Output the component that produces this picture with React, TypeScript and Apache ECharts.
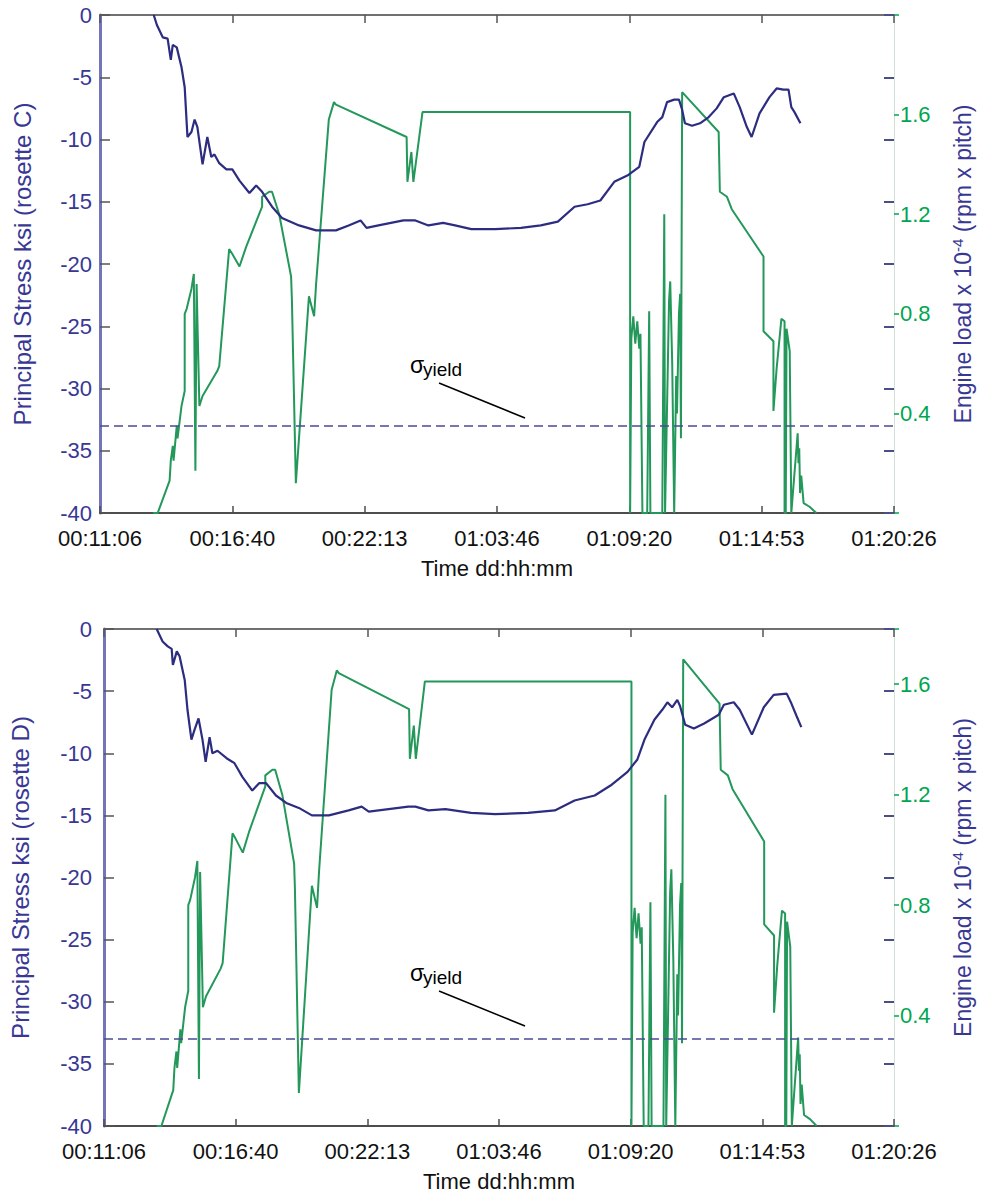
import React, { useEffect, useRef } from "react";
import * as echarts from "echarts";

// Time tick labels (dd:hh:mm) for the x axis, one every 20000 s
const timeTicks = ["00:11:06", "00:16:40", "00:22:13", "01:03:46", "01:09:20", "01:14:53", "01:20:26"];
const xStartSec = 40000;
const xEndSec = 160000;
const xStepSec = 20000;

// Principal stress, rosette C  [minutes from day 0 00:00, ksi]
const stressC: [number, number][] = [
  [802, 0], [810, -0.8], [825, -1.8], [837, -1.9], [845, -3.6], [850, -2.4], [860, -2.6], [872, -4.2],
  [880, -5.8], [887, -9.8], [897, -9.4], [905, -8.4], [912, -9.0], [925, -12.0], [937, -9.8], [947, -11.4],
  [955, -11.2], [967, -11.9], [985, -12.4], [1000, -12.4], [1018, -13.3], [1043, -14.3], [1060, -13.7],
  [1075, -14.2], [1100, -15.4], [1125, -16.3], [1168, -16.9], [1211, -17.3], [1243, -17.3], [1261, -17.3],
  [1293, -16.9], [1323, -16.5], [1338, -17.1], [1368, -16.9], [1431, -16.5], [1461, -16.5], [1494, -16.9],
  [1531, -16.7], [1561, -16.9], [1602, -17.2], [1662, -17.2], [1727, -17.1], [1777, -16.9], [1820, -16.6],
  [1862, -15.4], [1895, -15.2], [1927, -14.9], [1962, -13.4], [1995, -12.9], [2025, -12.2], [2038, -10.2],
  [2070, -8.6], [2083, -8.2], [2095, -7.0], [2113, -6.8], [2125, -6.8], [2133, -7.6], [2140, -8.7],
  [2158, -8.9], [2178, -8.7], [2200, -8.2], [2220, -7.5], [2238, -6.6], [2263, -6.3], [2278, -7.4],
  [2296, -9.0], [2308, -9.8], [2328, -7.9], [2353, -6.6], [2371, -5.9], [2388, -6.0], [2401, -6.0],
  [2408, -7.4], [2416, -7.8], [2431, -8.7],
];

// Principal stress, rosette D  [minutes, ksi]
const stressD: [number, number][] = [
  [800, 0], [815, -1.0], [828, -1.4], [838, -1.6], [841, -2.9], [851, -1.8], [858, -2.2], [871, -4.1],
  [878, -6.5], [888, -8.9], [896, -8.1], [906, -7.2], [916, -8.9], [924, -10.7], [934, -8.7], [941, -10.0],
  [954, -9.8], [977, -10.4], [997, -10.8], [1017, -11.9], [1042, -13.0], [1060, -12.4], [1077, -12.4],
  [1102, -13.4], [1128, -14.0], [1160, -14.4], [1193, -15.0], [1236, -15.0], [1286, -14.6], [1319, -14.3],
  [1337, -14.7], [1387, -14.5], [1437, -14.3], [1455, -14.3], [1488, -14.6], [1531, -14.5], [1596, -14.8],
  [1657, -14.9], [1740, -14.8], [1808, -14.6], [1858, -13.8], [1909, -13.4], [1949, -12.6], [1992, -11.5],
  [2017, -10.5], [2035, -8.9], [2060, -7.3], [2080, -6.5], [2093, -5.9], [2105, -6.3], [2118, -5.7],
  [2125, -6.2], [2138, -7.7], [2160, -8.0], [2186, -7.6], [2223, -6.9], [2236, -6.1], [2261, -5.9],
  [2276, -6.5], [2307, -8.5], [2337, -6.3], [2362, -5.3], [2395, -5.2], [2407, -6.0], [2420, -7.0],
  [2432, -7.9],
];

// Engine load x 10^-4 (rpm x pitch)  [minutes, load]
const engineLoad: [number, number][] = [
  [800, 0], [812, 0], [842, 0.13], [845, 0.21], [850, 0.27], [852, 0.21], [860, 0.35], [862, 0.30],
  [872, 0.43], [880, 0.49], [880, 0.80], [885, 0.82], [897, 0.90], [903, 0.96], [907, 0.17], [910, 0.92],
  [917, 0.43], [925, 0.47], [962, 0.57], [967, 0.59], [992, 1.06], [1000, 1.04], [1018, 0.99], [1035, 1.07],
  [1075, 1.23], [1075, 1.27], [1093, 1.29], [1100, 1.29], [1118, 1.20], [1148, 0.95], [1150, 0.86],
  [1160, 0.12], [1193, 0.87], [1206, 0.79], [1211, 0.92], [1243, 1.58], [1256, 1.65], [1261, 1.64],
  [1439, 1.51], [1441, 1.33], [1451, 1.45], [1456, 1.33], [1479, 1.61], [2002, 1.61], [2002, 0.0],
  [2005, 0.70], [2010, 0.79], [2015, 0.68], [2020, 0.77], [2025, 0.66], [2028, 0.72], [2033, 0.0],
  [2045, 0.0], [2050, 0.81], [2053, 0.0], [2083, 0.0], [2088, 1.20], [2090, 0.0], [2100, 0.85],
  [2103, 0.93], [2108, 0.60], [2113, 0.0], [2118, 0.55], [2120, 0.40], [2125, 0.80], [2128, 0.88],
  [2130, 0.30], [2133, 1.69], [2225, 1.53], [2228, 1.29], [2246, 1.27], [2258, 1.22], [2338, 1.03],
  [2338, 0.73], [2363, 0.69], [2363, 0.41], [2371, 0.58], [2383, 0.78], [2391, 0.77], [2391, 0.0],
  [2394, 0.0], [2396, 0.74], [2404, 0.65], [2408, 0.0], [2424, 0.32], [2426, 0.20], [2428, 0.26],
  [2430, 0.08], [2433, 0.15], [2439, 0.04], [2454, 0.025], [2471, 0],
];

const yieldStress = -33;
const stressTitles = ["Principal Stress ksi (rosette C)", "Principal Stress ksi (rosette D)"];
const loadMax = [2.0, 1.8];

const FONT = "'Liberation Sans', Arial, Helvetica, sans-serif";
const BLUE_TXT = "#383894";
const GREEN_TXT = "#00A651";
const BLUE_LINE = "#2C2C80";
const GREEN_LINE = "#23985A";

const grids = [
  { left: 100, top: 15, width: 798, height: 498 },
  { left: 104, top: 629, width: 794, height: 497 },
];

export default function App() {
  const ref = useRef<HTMLDivElement>(null);

  useEffect(() => {
    if (!ref.current) return;
    const chart = echarts.init(ref.current, null, { renderer: "svg" });

    const xAxis: any[] = [];
    const yAxis: any[] = [];
    const series: any[] = [];
    const stresses = [stressC, stressD];

    for (let g = 0; g < 2; g++) {
      const xFmt = (v: number) => {
        const i = Math.round((v - xStartSec) / xStepSec);
        return timeTicks[i] ?? "";
      };
      xAxis.push({
        type: "value", gridIndex: g, min: xStartSec, max: xEndSec, interval: xStepSec, position: "bottom",
        axisLine: { show: true, onZero: false, lineStyle: { color: "#4d4d4d", width: 2 } },
        axisTick: { show: true, inside: true, length: 7, lineStyle: { color: "#4d4d4d", width: 1.5 } },
        axisLabel: { formatter: xFmt, color: "#111", fontSize: 22, fontFamily: FONT, margin: 14 },
        splitLine: { show: false },
        name: "Time dd:hh:mm", nameLocation: "middle", nameGap: 44,
        nameTextStyle: { color: "#111", fontSize: 22, fontFamily: FONT },
      });
      xAxis.push({
        type: "value", gridIndex: g, min: xStartSec, max: xEndSec, interval: xStepSec, position: "top",
        axisLine: { show: true, onZero: false, lineStyle: { color: "#707070", width: 2 } },
        axisTick: { show: true, inside: true, length: 8, lineStyle: { color: "#555", width: 1.5 } },
        axisLabel: { show: false },
        splitLine: { show: false },
      });

      const lm = loadMax[g];
      yAxis.push({
        type: "value", gridIndex: g, min: -40, max: 0, interval: 5, position: "left",
        axisLine: { show: true, onZero: false, lineStyle: { color: "#7474B8", width: 3 } },
        axisTick: { show: true, inside: true, length: 10, lineStyle: { color: "#555", width: 1.5 } },
        axisLabel: { color: BLUE_TXT, fontSize: 22, fontFamily: FONT, margin: g === 0 ? 8 : 12 },
        splitLine: { show: false },
        name: stressTitles[g], nameLocation: "middle", nameGap: g === 0 ? 66 : 72,
        nameTextStyle: { color: BLUE_TXT, fontSize: 24, fontFamily: FONT },
      });
      yAxis.push({
        type: "value", gridIndex: g, min: 0, max: lm, interval: 0.4, position: "right",
        axisLine: { show: true, onZero: false, lineStyle: { color: "#D3E2D8", width: 1 } },
        axisTick: { show: true, inside: false, length: 5, lineStyle: { color: GREEN_TXT, width: 1.5 } },
        axisLabel: {
          color: GREEN_TXT, fontSize: 22, fontFamily: FONT, margin: 6,
          formatter: (v: number) => (v > 0.01 && v < lm - 0.01 ? v.toFixed(1) : ""),
        },
        splitLine: { show: false },
        name: "Engine load x 10{sup|-4} (rpm x pitch)", nameLocation: "middle", nameGap: 56,
        nameTextStyle: {
          color: BLUE_TXT, fontSize: 23, fontFamily: FONT, lineHeight: 26,
          rich: { sup: { color: BLUE_TXT, fontSize: 15, fontFamily: FONT, lineHeight: 15, verticalAlign: "top" } },
        },
      });
      yAxis.push({
        type: "value", gridIndex: g, min: -40, max: 0, interval: 5, position: "right",
        axisLine: { show: false, onZero: false },
        axisTick: { show: true, inside: true, length: 10, lineStyle: { color: "#4E4E86", width: 2 } },
        axisLabel: { show: false },
        splitLine: { show: false },
      });

      series.push({
        type: "line", xAxisIndex: 2 * g, yAxisIndex: 3 * g + 1, z: 2,
        data: engineLoad.map(([m, v]) => [m * 60, v]),
        symbol: "none", showSymbol: false,
        lineStyle: { color: GREEN_LINE, width: 2 },
      });
      series.push({
        type: "line", xAxisIndex: 2 * g, yAxisIndex: 3 * g, z: 3,
        data: stresses[g].map(([m, v]) => [m * 60, v]),
        symbol: "none", showSymbol: false,
        lineStyle: { color: BLUE_LINE, width: 2.2 },
        markLine: {
          silent: true, symbol: "none", label: { show: false },
          lineStyle: { color: "#4A4A98", type: [9, 5], width: 1.5 },
          data: [{ yAxis: yieldStress }],
        },
      });
    }

    const annot = (sy: number, ly1: number, ly2: number, yy: number) => [
      { type: "text", x: 410, y: sy, style: { text: "σ", fill: "#000", fontSize: 23, fontFamily: FONT, align: "left", verticalAlign: "middle" } },
      { type: "text", x: 423, y: yy, style: { text: "yield", fill: "#000", fontSize: 19, fontFamily: FONT, align: "left", verticalAlign: "middle" } },
      { type: "line", shape: { x1: 439, y1: ly1, x2: 525, y2: ly2 }, style: { stroke: "#000", lineWidth: 1.5 } },
    ];

    chart.setOption({
      animation: false,
      backgroundColor: "#fff",
      textStyle: { fontFamily: FONT },
      grid: grids,
      xAxis,
      yAxis,
      series,
      graphic: [...annot(365, 383, 418, 369), ...annot(973, 991, 1026, 977)],
    });

    return () => chart.dispose();
  }, []);

  return (
    <div
      ref={ref}
      style={{ position: "absolute", left: 0, top: 0, width: 984, height: 1197, background: "#fff" }}
    />
  );
}
